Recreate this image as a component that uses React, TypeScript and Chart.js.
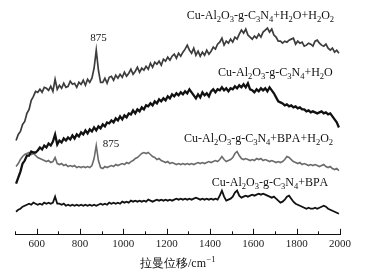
import { useEffect, useRef } from 'react';
import { Chart, registerables } from 'chart.js';

Chart.register(...registerables);

// Raman shift grid (cm-1)
const WAVENUMBERS: number[] = Array.from({ length: 150 }, (_, i) => 505 + 10 * i);

// Intensities (arbitrary units, already offset for stacking), 10 values per 100 cm-1
const H2O_H2O2: number[] = [
  100, 106, 109, 116, 119, 127, 131, 140, 144, 149,
  148, 151, 148, 153, 152, 150, 154, 149, 161, 151,
  155, 152, 157, 153, 154, 159, 156, 157, 153, 158,
  156, 160, 155, 161, 158, 162, 172, 190, 170, 158,
  158, 162, 157, 163, 164, 160, 165, 162, 166, 163,
  168, 164, 167, 171, 166, 169, 173, 168, 172, 170,
  174, 171, 177, 173, 178, 176, 179, 175, 181, 179,
  183, 180, 184, 186, 182, 187, 184, 188, 191, 195,
  190, 187, 192, 185, 189, 184, 188, 185, 190, 186,
  189, 193, 191, 196, 198, 202, 195, 199, 197, 201,
  198, 203, 201, 206, 210, 207, 211, 205, 203, 201,
  204, 202, 206, 203, 208, 210, 212, 208, 211, 205,
  203, 199, 199, 197, 199, 198, 200, 201, 202, 196,
  199, 197, 198, 194, 195, 197, 196, 194, 199, 200,
  197, 195, 194, 196, 192, 190, 192, 188, 190, 187,
];

const H2O: number[] = [
  57, 63, 69, 77, 80, 85, 85, 89, 88, 88,
  90, 93, 91, 95, 93, 97, 95, 99, 106, 96,
  100, 98, 102, 100, 103, 101, 105, 102, 106, 104,
  108, 106, 110, 107, 111, 109, 113, 110, 114, 112,
  116, 114, 118, 117, 120, 118, 122, 120, 124, 121,
  125, 123, 127, 126, 130, 127, 131, 129, 133, 131,
  135, 134, 137, 135, 139, 137, 141, 139, 142, 140,
  144, 142, 146, 144, 147, 145, 148, 146, 149, 147,
  151, 148, 145, 142, 146, 143, 148, 145, 147, 144,
  149, 151, 148, 151, 150, 153, 150, 152, 149, 152,
  151, 154, 152, 155, 153, 156, 153, 157, 151, 150,
  148, 151, 149, 152, 150, 152, 149, 153, 150, 147,
  143, 139, 138, 137, 135, 136, 134, 135, 133, 134,
  132, 133, 131, 131, 129, 130, 128, 129, 128, 127,
  128, 129, 127, 128, 126, 127, 124, 121, 118, 113,
];

const BPA_H2O2: number[] = [
  74, 77, 81, 84, 86, 87, 88, 86, 87, 85,
  83, 82, 81, 80, 79, 80, 78, 79, 83, 77,
  76, 77, 75, 76, 74, 75, 74, 75, 73, 74,
  73, 74, 73, 74, 73, 75, 82, 95, 80, 73,
  72, 74, 73, 74, 75, 74, 76, 75, 76, 77,
  76, 78, 77, 79, 80, 82, 83, 85, 87, 88,
  87, 88, 86, 84, 83, 81, 82, 80, 79, 78,
  79, 77, 78, 77, 76, 77, 76, 77, 76, 77,
  76, 77, 76, 77, 78, 77, 78, 77, 78, 79,
  78, 79, 80, 79, 81, 84, 81, 79, 80, 81,
  83, 87, 89, 85, 82, 81, 82, 81, 80, 81,
  80, 82, 81, 82, 80, 81, 80, 79, 80, 79,
  78, 79, 78, 79, 81, 84, 83, 81, 79, 78,
  77, 78, 76, 77, 76, 75, 76, 75, 76, 75,
  74, 75, 76, 74, 73, 74, 72, 71, 72, 70,
];

const BPA: number[] = [
  29, 31, 32, 34, 35, 36, 37, 36, 38, 37,
  36, 37, 36, 38, 37, 38, 37, 38, 44, 37,
  37, 36, 37, 35, 36, 35, 36, 35, 36, 35,
  36, 35, 36, 35, 36, 35, 36, 35, 36, 37,
  36, 37, 36, 38, 37, 38, 37, 38, 37, 39,
  38, 39, 38, 40, 39, 40, 39, 40, 39, 40,
  39, 41, 40, 39, 40, 41, 40, 41, 40, 41,
  40, 41, 40, 41, 42, 41, 42, 41, 42, 41,
  42, 41, 42, 43, 42, 41, 42, 41, 42, 41,
  42, 41, 42, 41, 45, 50, 44, 40, 41, 42,
  44, 48, 50, 45, 43, 44, 45, 44, 45, 46,
  45, 46, 47, 46, 47, 46, 45, 44, 43, 44,
  42, 40, 38, 39, 41, 44, 45, 42, 39, 37,
  36, 35, 34, 33, 32, 33, 32, 32, 33, 32,
  33, 34, 35, 34, 32, 31, 30, 29, 28, 27,
];

const SERIES_NAMES = [
  'Cu-Al_2O_3-g-C_3N_4+H_2O+H_2O_2',
  'Cu-Al_2O_3-g-C_3N_4+H_2O',
  'Cu-Al_2O_3-g-C_3N_4+BPA+H_2O_2',
  'Cu-Al_2O_3-g-C_3N_4+BPA',
];
const SERIES_VALUES = [H2O_H2O2, H2O, BPA_H2O2, BPA];
const X_MIN = 500;
const X_MAX = 2000;
const TICK_STEP = 100;
const AXIS_TITLE = '拉曼位移/cm';
const AXIS_TITLE_SUP = '−1';

// styling / annotation placement (not data)
const COLORS = ['#3c3c3c', '#111111', '#6b6b6b', '#111111'];
const WIDTHS = [1.7, 2.3, 1.6, 1.8];
const NAME_ANCHORS = [
  { x: 1633, y: 225 },
  { x: 1702, y: 168 },
  { x: 1624, y: 102 },
  { x: 1677, y: 59 },
];
const PEAK_NOTES = [
  { text: '875', x: 885, y: 202 },
  { text: '875', x: 943, y: 96 },
];

const SERIF = "'Liberation Serif', 'Times New Roman', serif";

function drawFormula(ctx: CanvasRenderingContext2D, text: string, cx: number, cy: number) {
  const parts: { t: string; sub: boolean }[] = [];
  for (let i = 0; i < text.length; i++) {
    if (text[i] === '_' && i + 1 < text.length) {
      parts.push({ t: text[i + 1], sub: true });
      i++;
    } else {
      parts.push({ t: text[i], sub: false });
    }
  }
  const base = `12px ${SERIF}`;
  const small = `8.5px ${SERIF}`;
  let w = 0;
  for (const p of parts) {
    ctx.font = p.sub ? small : base;
    w += ctx.measureText(p.t).width;
  }
  let x = cx - w / 2;
  const baseline = cy + 4;
  ctx.textBaseline = 'alphabetic';
  ctx.textAlign = 'left';
  for (const p of parts) {
    ctx.font = p.sub ? small : base;
    ctx.fillText(p.t, x, p.sub ? baseline + 3 : baseline);
    x += ctx.measureText(p.t).width;
  }
}

const decorPlugin = {
  id: 'decor',
  afterDraw(chart: any) {
    const ctx: CanvasRenderingContext2D = chart.ctx;
    const xs = chart.scales.x;
    const ys = chart.scales.y;
    const bottom = chart.chartArea.bottom;
    ctx.save();
    ctx.strokeStyle = '#111';
    ctx.lineWidth = 1;
    for (let v = X_MIN; v <= X_MAX; v += TICK_STEP) {
      const px = Math.round(xs.getPixelForValue(v)) + 0.5;
      const len = v % 200 === 0 ? 6 : 3.5;
      ctx.beginPath();
      ctx.moveTo(px, bottom);
      ctx.lineTo(px, bottom - len);
      ctx.stroke();
    }
    ctx.fillStyle = '#111';
    SERIES_NAMES.forEach((name, i) => {
      const a = NAME_ANCHORS[i];
      drawFormula(ctx, name, xs.getPixelForValue(a.x), ys.getPixelForValue(a.y));
    });
    ctx.font = `11px ${SERIF}`;
    ctx.textAlign = 'center';
    ctx.textBaseline = 'middle';
    PEAK_NOTES.forEach((n) => {
      ctx.fillText(n.text, xs.getPixelForValue(n.x), ys.getPixelForValue(n.y));
    });
    // axis title with superscript
    const mainFont = `12px ${SERIF}`;
    const supFont = `8.5px ${SERIF}`;
    ctx.font = mainFont;
    const w1 = ctx.measureText(AXIS_TITLE).width;
    ctx.font = supFont;
    const w2 = ctx.measureText(AXIS_TITLE_SUP).width;
    const cx = (xs.left + xs.right) / 2;
    const startX = cx - (w1 + w2) / 2;
    const base = bottom + 32;
    ctx.textAlign = 'left';
    ctx.textBaseline = 'alphabetic';
    ctx.font = mainFont;
    ctx.fillText(AXIS_TITLE, startX, base);
    ctx.font = supFont;
    ctx.fillText(AXIS_TITLE_SUP, startX + w1 + 0.5, base - 5);
    ctx.restore();
  },
};

export default function App() {
  const ref = useRef<HTMLCanvasElement | null>(null);
  useEffect(() => {
    if (!ref.current) return;
    const chart = new Chart(ref.current, {
      type: 'line',
      data: {
        datasets: SERIES_VALUES.map((vals, i) => ({
          label: SERIES_NAMES[i],
          data: vals.map((v, j) => ({ x: WAVENUMBERS[j], y: v })),
          borderColor: COLORS[i],
          borderWidth: WIDTHS[i],
          pointRadius: 0,
          tension: 0,
          fill: false,
        })),
      },
      options: {
        animation: false,
        responsive: true,
        maintainAspectRatio: false,
        layout: { padding: { left: 15, right: 28, top: 0, bottom: 22 } },
        plugins: { legend: { display: false }, tooltip: { enabled: false } },
        scales: {
          x: {
            type: 'linear',
            min: X_MIN,
            max: X_MAX,
            grid: { display: false, drawTicks: false },
            border: { display: true, color: '#111', width: 1 },
            ticks: {
              stepSize: TICK_STEP,
              autoSkip: false,
              maxRotation: 0,
              padding: 3,
              color: '#222',
              font: { family: SERIF, size: 11 },
              callback: (v: any) => (Number(v) % 200 === 0 ? String(v) : ''),
            },
          },
          y: { display: false, min: 6, max: 240 },
        },
      },
      plugins: [decorPlugin],
    });
    return () => chart.destroy();
  }, []);
  return (
    <div style={{ position: 'fixed', left: 0, top: 0, width: 368, height: 276, background: '#fff' }}>
      <canvas ref={ref} />
    </div>
  );
}
